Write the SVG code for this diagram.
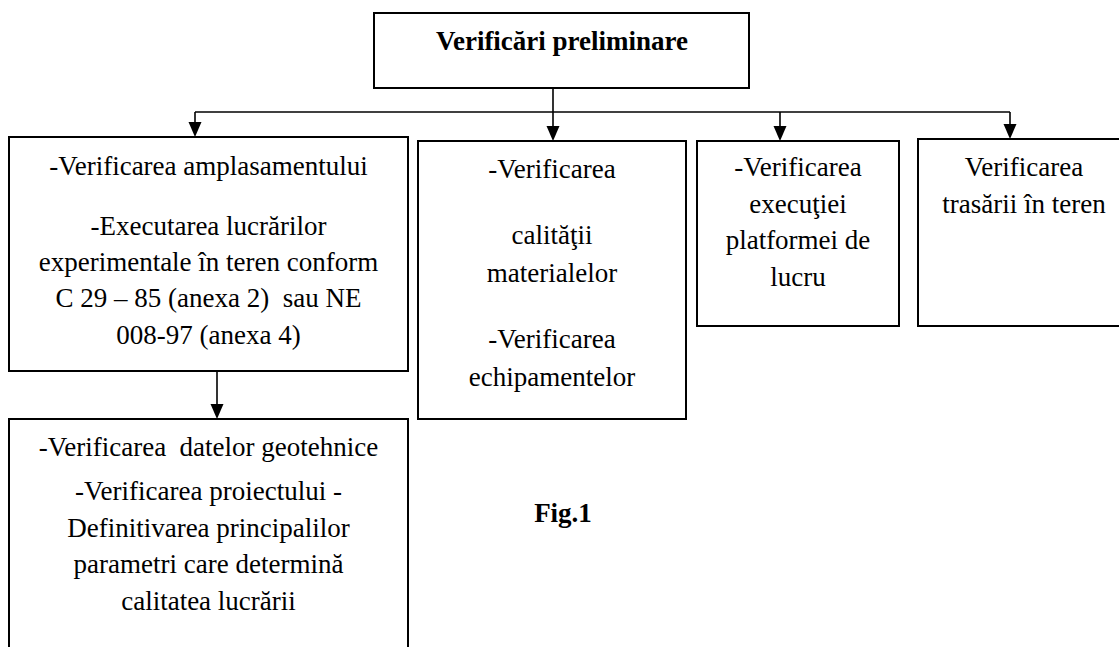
<svg xmlns="http://www.w3.org/2000/svg" width="1119" height="647" viewBox="0 0 1119 647">
<style>
.box{fill:#fff;stroke:#000;stroke-width:2}
text{font-family:'Liberation Serif','Times New Roman',Tinos,serif;font-size:27px;fill:#000;text-anchor:middle}
.b{font-weight:bold}
.c{fill:none;stroke:#000;stroke-width:1.6}
</style>
<rect width="1119" height="647" fill="#fff"/>
<g id="connectors">
<line class="c" x1="553" y1="88" x2="553" y2="112"/>
<line class="c" x1="195" y1="112" x2="1010" y2="112"/>
<path class="c" d="M195,112 L195,122"/>
<path d="M188.5,122 L201.5,122 L195,137 Z" fill="#000"/>
<path class="c" d="M553,112 L553,126"/>
<path d="M546.5,126 L559.5,126 L553,141 Z" fill="#000"/>
<path class="c" d="M780,112 L780,126"/>
<path d="M773.5,126 L786.5,126 L780,141 Z" fill="#000"/>
<path class="c" d="M1010,112 L1010,124"/>
<path d="M1003.5,124 L1016.5,124 L1010,139 Z" fill="#000"/>
<path class="c" d="M217,371 L217,404"/>
<path d="M210.5,404 L223.5,404 L217,419 Z" fill="#000"/>
</g>
<g id="top" font-family="Liberation Serif, serif">
<rect class="box" x="374" y="13" width="375" height="75"/>
<text class="b" x="562" y="50" font-family="Liberation Serif, serif">Verificări preliminare</text>
</g>
<g id="n1" font-family="Liberation Serif, serif">
<rect class="box" x="9" y="137" width="399" height="234"/>
<text x="208.5" y="175">-Verificarea amplasamentului</text>
<text x="208.5" y="235">-Executarea lucrărilor</text>
<text x="208.5" y="271">experimentale în teren conform</text>
<text x="208.5" y="307" xml:space="preserve">C 29 – 85 (anexa 2)  sau NE</text>
<text x="208.5" y="343.5">008-97 (anexa 4)</text>
</g>
<g id="n2" font-family="Liberation Serif, serif">
<rect class="box" x="418" y="141" width="268" height="278"/>
<text x="552" y="178">-Verificarea</text>
<text x="552" y="244">calităţii</text>
<text x="552" y="282">materialelor</text>
<text x="552" y="348">-Verificarea</text>
<text x="552" y="386">echipamentelor</text>
</g>
<g id="n3" font-family="Liberation Serif, serif">
<rect class="box" x="697" y="141" width="202" height="185"/>
<text x="798" y="176">-Verificarea</text>
<text x="798" y="213">execuţiei</text>
<text x="798" y="249">platformei de</text>
<text x="798" y="286">lucru</text>
</g>
<g id="n4" font-family="Liberation Serif, serif">
<rect class="box" x="918" y="139" width="214" height="187"/>
<text x="1024" y="176">Verificarea</text>
<text x="1024" y="213">trasării în teren</text>
</g>
<g id="n5" font-family="Liberation Serif, serif">
<rect class="box" x="9" y="419" width="399" height="240"/>
<text x="208.5" y="456" xml:space="preserve">-Verificarea  datelor geotehnice</text>
<text x="208.5" y="499.5">-Verificarea proiectului -</text>
<text x="208.5" y="536.5">Definitivarea principalilor</text>
<text x="208.5" y="573">parametri care determină</text>
<text x="208.5" y="610">calitatea lucrării</text>
</g>
<g id="caption">
<text class="b" x="563" y="522">Fig.1</text>
</g>
</svg>
